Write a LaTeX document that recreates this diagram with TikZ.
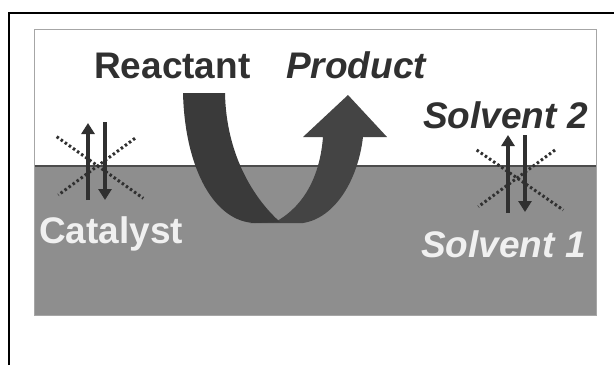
\documentclass[tikz,border=0pt]{standalone}
\usepackage{fontspec}
\setmainfont{Liberation Sans}
\usetikzlibrary{arrows.meta}

\definecolor{phasegray}{HTML}{8E8E8E}
\definecolor{inkgray}{HTML}{303030}
\definecolor{banddark}{HTML}{3A3A3A}
\definecolor{bandlight}{HTML}{444444}

\begin{document}
\begin{tikzpicture}[x=1pt,y=-1pt,
    phaselabel/.style={font=\bfseries\fontsize{37}{37}\selectfont, inner sep=0pt, anchor=base west},
    flux/.style={line width=3.2pt, draw=inkgray, -{Triangle[width=13pt,length=11pt]}},
    blocked/.style={line width=3pt, draw=inkgray, dash pattern=on 2.5pt off 2.5pt}]
    \useasboundingbox (0,0) rectangle (614,365);

    % Page frame
    \draw[line width=2pt] (8.5,365) -- (8.5,12.5) -- (614,12.5);

    % Upper phase (Solvent 2) and lower phase (Solvent 1)
    \fill[white] (34.5,29.5) rectangle (596,166);
    \fill[phasegray] (34.5,166) rectangle (596,315);
    \draw[gray!70, line width=1pt] (34.5,29.5) rectangle (596,315);
    \draw[black!70, line width=1.4pt] (34.5,166) -- (596,166);

    % Reaction ribbon: right band with head, then left band
    \fill[bandlight] (250,223) -- (303,223) .. controls (335,218) and (358,180) .. (363,137)
        -- (387,137) -- (348,95) -- (303,137) -- (323,137)
        .. controls (320,175) and (305,205) .. (277,221) -- cycle;
    \fill[banddark] (183,93) .. controls (185,170) and (215,222) .. (255,223)
        -- (280,222) .. controls (250,195) and (226,150) .. (225,93) -- cycle;

    % Labels
    \node[phaselabel, text=inkgray] (reactant) at (94,78) {Reactant};
    \node[phaselabel, text=inkgray] (product) at (286,78) {\itshape Product};
    \node[phaselabel, text=inkgray] (solvtwo) at (423,128) {\itshape Solvent 2};
    \node[phaselabel, text=white!94!black] (catalyst) at (39,243) {Catalyst};
    \node[phaselabel, text=white!94!black] (solvone) at (421,257) {\itshape Solvent 1};

    % Catalyst crossing (blocked)
    \coordinate (catup0) at (88,200);
    \coordinate (catup1) at (88,123);
    \coordinate (catdn0) at (105,122);
    \coordinate (catdn1) at (105,200);
    \draw[blocked] (56.7,136.7) -- (143.3,198.3);
    \draw[blocked] (135,138.3) -- (58.3,195);
    \draw[flux] (catup0) -- (catup1);
    \draw[flux] (catdn0) -- (catdn1);

    % Solvent crossing (blocked)
    \coordinate (solup0) at (508,213);
    \coordinate (solup1) at (508,135);
    \coordinate (soldn0) at (525,135);
    \coordinate (soldn1) at (525,212);
    \draw[blocked] (476.7,150) -- (563.3,210);
    \draw[blocked] (555,150) -- (478.3,206.7);
    \draw[flux] (solup0) -- (solup1);
    \draw[flux] (soldn0) -- (soldn1);
\end{tikzpicture}
\end{document}
